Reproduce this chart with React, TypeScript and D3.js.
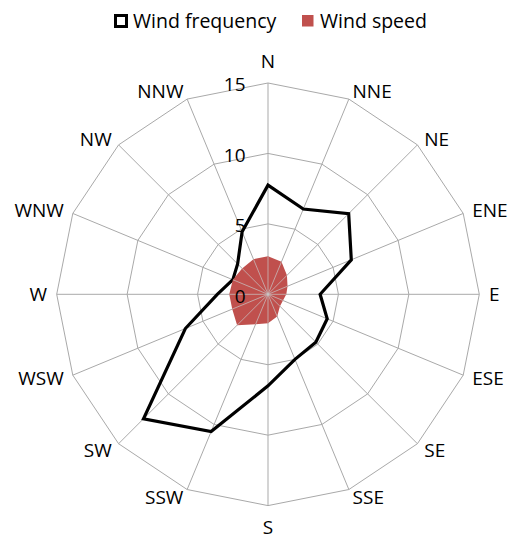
import React from "react";
import * as d3 from "d3";

const directions = ["N", "NNE", "NE", "ENE", "E", "ESE", "SE", "SSE", "S", "SSW", "SW", "WSW", "W", "WNW", "NW", "NNW"];
const windFrequency = [7.75, 6.55, 8.1, 6.4, 3.7, 4.55, 4.8, 5.0, 6.5, 10.55, 12.5, 6.35, 3.6, 2.7, 3.05, 4.8];
const windSpeed = [2.7, 2.5, 1.9, 1.5, 1.3, 1.15, 1.2, 1.7, 2.05, 2.3, 3.1, 2.75, 2.75, 2.7, 2.6, 2.7];
const tickValues = [0, 5, 10, 15];
const seriesNames = ["Wind frequency", "Wind speed"];

const W = 516;
const H = 550;
const cx = 268;
const cy = 294.3;
const R = 211.3;
const FONT = "'Open Sans', sans-serif";
const GRID = "#A9A9A9";
const RED = "#C0504D";

export default function App() {
  const n = directions.length;
  const r = d3.scaleLinear().domain([0, 15]).range([0, R]);
  const ang = (i: number) => (i * 2 * Math.PI) / n;

  const radial = d3
    .lineRadial<number>()
    .angle((_, i) => ang(i))
    .radius((d) => r(d))
    .curve(d3.curveLinearClosed);

  const ringPath = (v: number) => radial(directions.map(() => v)) as string;
  const spokes = directions.map((_, i) => {
    const a = ang(i);
    return { x: cx + R * Math.sin(a), y: cy - R * Math.cos(a) };
  });

  const labels = directions.map((d, i) => {
    const a = ang(i);
    const s = Math.sin(a);
    const c = Math.cos(a);
    if (Math.abs(s) < 0.01) {
      return { d, x: cx, y: cy - c * 233, anchor: "middle" };
    }
    return {
      d,
      x: cx + 221 * s,
      y: cy - 220 * c,
      anchor: s > 0 ? "start" : "end",
    };
  });

  return (
    <svg
      width={W}
      height={H}
      style={{ position: "absolute", left: 0, top: 0, background: "#fff" }}
      fontFamily={FONT}
    >
      <defs>
        <clipPath id="speedClip">
          <path d={radial(windSpeed) as string} transform={`translate(${cx},${cy})`} />
        </clipPath>
      </defs>
      {/* Legend */}
      <g>
        <rect x={115.5} y={15.5} width={11} height={11} fill="#fff" stroke="#000" strokeWidth={3} />
        <text x={133} y={28} fontSize={19.5} fill="#000">{seriesNames[0]}</text>
        <rect x={302} y={15} width={11.5} height={11.5} fill={RED} />
        <text x={320} y={28} fontSize={19.5} fill="#000">{seriesNames[1]}</text>
      </g>
      {/* Grid */}
      <g transform={`translate(${cx},${cy})`}>
        {tickValues.filter((v) => v > 0).map((v) => (
          <path key={v} d={ringPath(v)} fill="none" stroke={GRID} strokeWidth={1} />
        ))}
      </g>
      {spokes.map((p, i) => (
        <line key={i} x1={cx} y1={cy} x2={p.x} y2={p.y} stroke={GRID} strokeWidth={1} />
      ))}
      {/* Wind frequency line */}
      <path
        d={radial(windFrequency) as string}
        transform={`translate(${cx},${cy})`}
        fill="none"
        stroke="#000"
        strokeWidth={3.2}
        strokeLinejoin="miter"
      />
      {/* Wind speed area */}
      <path d={radial(windSpeed) as string} transform={`translate(${cx},${cy})`} fill={RED} />
      <g clipPath="url(#speedClip)">
        {spokes.map((p, i) => (
          <line key={i} x1={cx} y1={cy} x2={p.x} y2={p.y} stroke="#C8C8C8" strokeOpacity={0.7} strokeWidth={1} />
        ))}
      </g>
      {/* Tick labels */}
      {tickValues.map((v) => (
        <text
          key={v}
          x={cx - 22.5}
          y={cy - r(v) + 1.5}
          dy="0.36em"
          textAnchor="end"
          fontSize={19}
          fill="#000"
        >
          {v}
        </text>
      ))}
      {/* Direction labels */}
      {labels.map((l) => (
        <text key={l.d} x={l.x} y={l.y} dy="0.36em" textAnchor={l.anchor} fontSize={19} fill="#000">
          {l.d}
        </text>
      ))}
    </svg>
  );
}
